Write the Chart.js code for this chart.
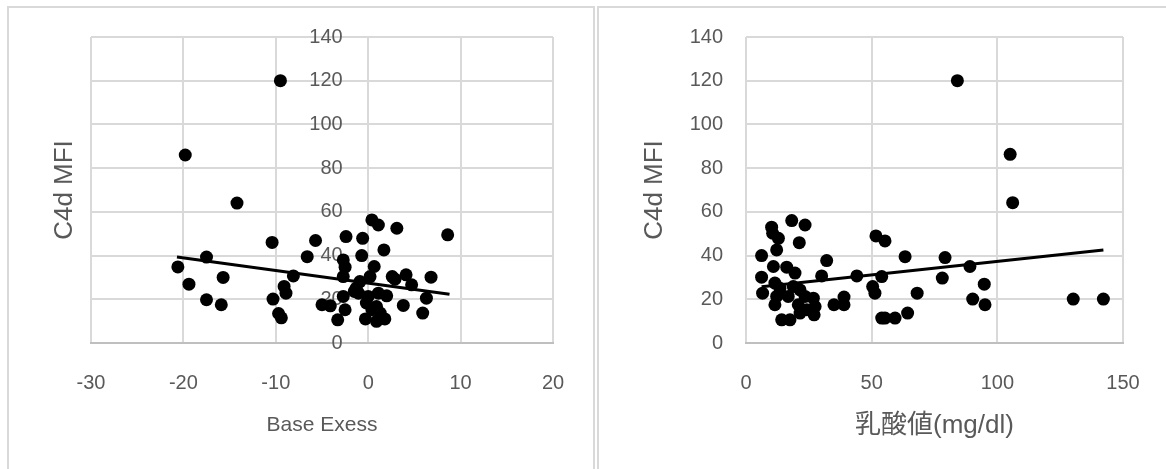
<!DOCTYPE html>
<html>
<head>
<meta charset="utf-8">
<script src="https://cdn.jsdelivr.net/npm/chart.js@4.4.1/dist/chart.umd.min.js"></script>
<style>
  html, body { margin:0; padding:0; background:#fff; width:1166px; height:469px; overflow:hidden; }
  .panel { position:absolute; box-sizing:border-box; border:2px solid #d9d9d9; }
  #pL { left:7px; top:6px; width:588px; height:600px; }
  #pR { left:597px; top:6px; width:700px; height:600px; }
  canvas { position:absolute; }
  #cL { left:9px; top:8px; }
  #cR { left:599px; top:8px; }
</style>
</head>
<body>
<div class="panel" id="pL"></div>
<div class="panel" id="pR"></div>
<canvas id="cL" width="584" height="461"></canvas>
<canvas id="cR" width="567" height="461"></canvas>
<script>
// ---- data ----
const beX = [-9.5,-19.8,-14.2,-10.4,-17.5,-20.6,-8.1,-19.4,-15.7,-9.1,-8.9,-17.5,-15.9,-10.3,-9.7,-9.4,
  -5.7,-6.6,-2.4,-0.6,-0.7,-2.7,-2.5,-2.7,0.4,1.1,3.1,8.6,1.7,0.65,0.2,-0.9,2.6,2.9,4.1,4.7,6.8,6.3,5.9,3.8,
  2.0,1.1,-1.3,-1.05,-2.7,-5.0,-4.1,-2.5,-3.3,-0.3,0.4,0.9,1.8,0,0.9,-0.2,1.3,-1.5];
const beY = [120,86,64,46,39.3,34.8,30.7,26.9,30,25.9,22.8,19.8,17.5,20.1,13.5,11.5,
  46.9,39.5,48.7,47.9,40,38,34.7,30.4,56.3,54,52.5,49.5,42.6,35,30.4,28.1,30.4,29.2,31.2,26.6,30.1,20.5,13.7,17.2,
  21.6,22.8,25.1,22.8,21.3,17.5,17,15.2,10.6,11,15.2,9.9,11,21.3,16.7,18.3,13.7,23.6];
const beTrendX = [-20.7, 8.8];
const beTrendY = [39.3, 22.3];

const laX = [6.2,10.2,10.6,12.9,12.2,18.2,23.5,21.2,32.1,6.2,10.9,16.2,19.5,6.6,11.5,13.5,12.2,11.5,16.8,18.8,
  21.5,23.5,26.8,27.5,27.1,14.2,17.5,21.5,24.2,20.8,35,39,39,30.1,44.1,51.7,50.4,51.3,54,84.1,105.1,106.1,55.3,
  63.3,79.2,89.1,54,78.1,68.1,94.8,90.2,95.1,55.3,59.3,64.3,130.2,142.2];
const laY = [40,53,50.2,47.9,42.6,56,54,45.9,37.7,30.1,35,34.7,32,22.8,27.4,25.1,21.3,17.5,21.3,25.8,
  24.3,21.3,20.5,16.7,12.9,10.6,10.6,13.7,15.2,17.5,17.5,17.5,21,30.7,30.7,49,25.8,22.8,11.4,120,86.3,64.2,46.7,
  39.5,39.1,35,30.4,29.7,22.8,26.9,20.1,17.5,11.4,11.4,13.7,20.1,20.1];
const laTrendX = [6.2, 142.2];
const laTrendY = [25.7, 42.6];

const yMin = 0, yMax = 140, yStep = 20;
const beMin = -30, beMax = 20, beStep = 10;
const laMin = 0, laMax = 150, laStep = 50;
const yTitle = 'C4d MFI';
const beTitle = 'Base Exess';
const laTitle = '乳酸値(mg/dl)';

// ---- styling ----
const FONT = "'Liberation Sans', Arial, 'Noto Sans CJK JP', sans-serif";
const TXT = '#595959';
const GRID = '#d9d9d9';
const CLEAR = 'rgba(0,0,0,0)';
const tickFont = { family: FONT, size: 20 };
const yTitleFont = { family: FONT, size: 26 };

function pts(xs, ys) { return xs.map((x, i) => ({ x: x, y: ys[i] })); }

function datasets(xs, ys, tx, ty, yid) {
  return [
    { data: pts(xs, ys), yAxisID: yid, backgroundColor: '#000', borderColor: '#000', pointRadius: 6.5, pointHoverRadius: 6.5, borderWidth: 0, showLine: false },
    { data: pts(tx, ty), yAxisID: yid, borderColor: '#000', backgroundColor: '#000', borderWidth: 3, pointRadius: 0, showLine: true, fill: false }
  ];
}

const common = {
  responsive: false,
  animation: false,
  devicePixelRatio: 1,
  plugins: { legend: { display: false }, tooltip: { enabled: false } },
  events: []
};

function xScale(min, max, step, title, tFont, tPadBottom) {
  return {
    type: 'linear', min: min, max: max,
    ticks: { stepSize: step, color: TXT, font: tickFont, padding: 0, maxRotation: 0 },
    grid: { color: GRID, lineWidth: 2, drawTicks: true, tickLength: 28, tickColor: CLEAR },
    border: { display: true, color: '#bfbfbf', width: 2 },
    title: { display: true, text: title, color: TXT, font: tFont, padding: { top: 0, bottom: tPadBottom } },
    afterFit(s) { s.height = 126; }
  };
}

// Left chart: y axis crosses at x = 0
new Chart(document.getElementById('cL'), {
  type: 'scatter',
  data: { datasets: datasets(beX, beY, beTrendX, beTrendY, 'y') },
  options: Object.assign({}, common, {
    layout: { padding: { top: 29, right: 40, left: 0, bottom: 0 } },
    scales: {
      x: xScale(beMin, beMax, beStep, beTitle, { family: FONT, size: 21 }, 31),
      yl: {
        type: 'linear', position: 'left', min: yMin, max: yMax,
        ticks: { display: false, stepSize: yStep, padding: 0 },
        grid: { color: GRID, lineWidth: 2, drawTicks: false },
        border: { display: false },
        title: { display: true, text: yTitle, color: TXT, font: yTitleFont, padding: { top: 40, bottom: 0 } },
        afterFit(s) { s.width = 82; }
      },
      y: {
        type: 'linear', position: { x: 0 }, min: yMin, max: yMax,
        ticks: { stepSize: yStep, color: TXT, font: tickFont, padding: 0,
                 callback: v => v + '\u2002\u2002 ' },
        grid: { display: false, drawTicks: false },
        border: { display: false }
      }
    }
  })
});

// Right chart
new Chart(document.getElementById('cR'), {
  type: 'scatter',
  data: { datasets: datasets(laX, laY, laTrendX, laTrendY, 'y') },
  options: Object.assign({}, common, {
    layout: { padding: { top: 29, right: 43, left: 0, bottom: 0 } },
    scales: {
      x: xScale(laMin, laMax, laStep, laTitle, { family: FONT, size: 26 }, 28),
      y: {
        type: 'linear', position: 'left', min: yMin, max: yMax,
        ticks: { stepSize: yStep, color: TXT, font: tickFont, padding: 0 },
        grid: { color: GRID, lineWidth: 2, drawTicks: true, tickLength: 23, tickColor: CLEAR },
        border: { display: false },
        title: { display: true, text: yTitle, color: TXT, font: yTitleFont, padding: { top: 40, bottom: 0 } },
        afterFit(s) { s.width = 147; }
      }
    }
  })
});
</script>
</body>
</html>
